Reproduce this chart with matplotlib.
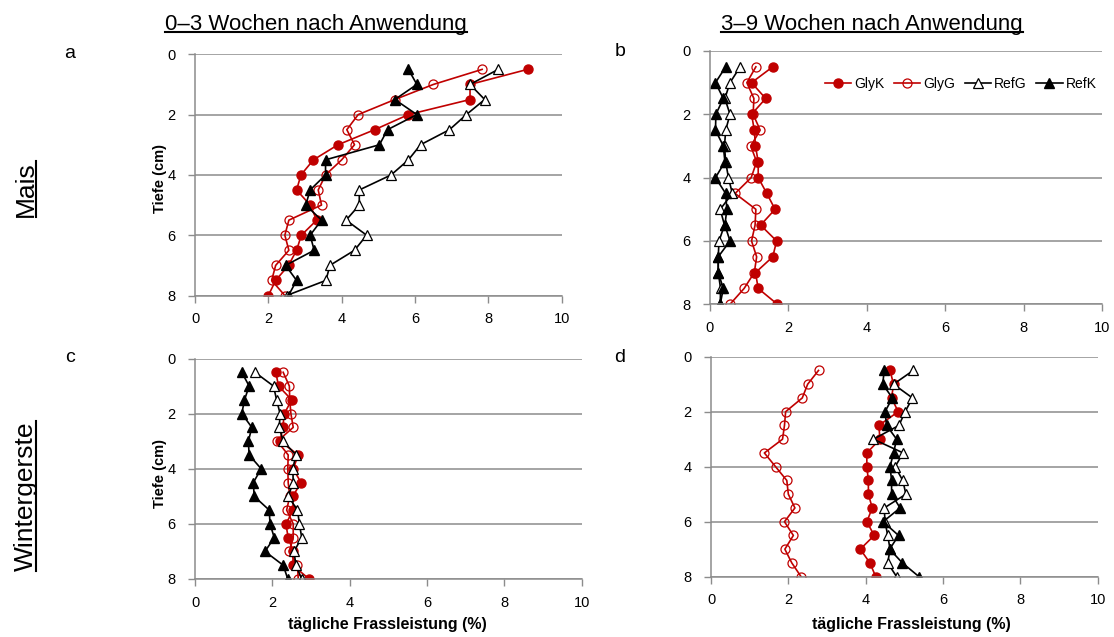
import numpy as np
import matplotlib
matplotlib.use('Agg')
import matplotlib.pyplot as plt
from matplotlib.lines import Line2D

plt.rcParams['font.family'] = ['Liberation Sans', 'DejaVu Sans']

# depth of each sample (cm)
depth = [0.5, 1.0, 1.5, 2.0, 2.5, 3.0, 3.5, 4.0, 4.5, 5.0, 5.5, 6.0, 6.5, 7.0, 7.5, 8.0]

# a: Mais, 0-3 Wochen
a_glyk = [9.07, 7.5, 7.5, 5.82, 4.9, 3.9, 3.23, 2.89, 2.77, 3.14, 3.32, 2.9, 2.77, 2.55, 2.2, 2.0]
a_glyg = [7.83, 6.5, 5.45, 4.45, 4.14, 4.35, 4.0, 3.56, 3.36, 3.45, 2.56, 2.45, 2.56, 2.2, 2.09, 2.45]
a_refg = [8.27, 7.5, 7.9, 7.4, 6.94, 6.15, 5.82, 5.35, 4.48, 4.48, 4.12, 4.68, 4.35, 3.68, 3.57, 2.5]
a_refk = [5.82, 6.05, 5.45, 6.05, 5.25, 5.03, 3.56, 3.56, 3.14, 3.02, 3.45, 3.14, 3.25, 2.47, 2.77, 2.55]

# b: Mais, 3-9 Wochen
b_glyk = [1.6, 1.06, 1.42, 1.06, 1.13, 1.16, 1.23, 1.23, 1.45, 1.66, 1.29, 1.7, 1.6, 1.16, 1.23, 1.72]
b_glyg = [1.17, 0.94, 1.12, 1.1, 1.28, 1.04, 1.19, 1.05, 0.64, 1.17, 1.15, 1.06, 1.19, 1.13, 0.87, 0.51]
b_refg = [0.77, 0.51, 0.38, 0.51, 0.4, 0.37, 0.4, 0.47, 0.57, 0.26, 0.37, 0.23, 0.21, 0.21, 0.27, 0.26]
b_refk = [0.4, 0.14, 0.34, 0.15, 0.14, 0.34, 0.38, 0.14, 0.4, 0.43, 0.38, 0.51, 0.21, 0.21, 0.34, 0.26]

# c: Wintergerste, 0-3 Wochen
c_glyk = [2.09, 2.16, 2.5, 2.31, 2.27, 2.2, 2.67, 2.54, 2.74, 2.53, 2.54, 2.35, 2.41, 2.54, 2.53, 2.95]
c_glyg = [2.28, 2.44, 2.45, 2.48, 2.54, 2.13, 2.41, 2.4, 2.41, 2.45, 2.37, 2.54, 2.54, 2.44, 2.65, 2.67]
c_refg = [1.55, 2.03, 2.11, 2.2, 2.18, 2.28, 2.61, 2.53, 2.54, 2.41, 2.65, 2.7, 2.76, 2.56, 2.61, 2.76]
c_refk = [1.21, 1.4, 1.28, 1.21, 1.47, 1.38, 1.4, 1.71, 1.51, 1.53, 1.92, 1.94, 2.05, 1.81, 2.28, 2.4]

# d: Wintergerste, 3-9 Wochen
d_glyk = [4.63, 4.72, 4.67, 4.84, 4.34, 4.37, 4.03, 4.03, 4.07, 4.07, 4.17, 4.03, 4.22, 3.86, 4.11, 4.26]
d_glyg = [2.78, 2.5, 2.36, 1.93, 1.9, 1.85, 1.38, 1.67, 1.96, 2.0, 2.17, 1.9, 2.13, 1.91, 2.09, 2.33]
d_refg = [5.23, 4.72, 5.21, 5.02, 4.86, 4.2, 4.97, 4.76, 4.96, 5.04, 4.48, 4.5, 4.57, 4.63, 4.57, 4.8]
d_refk = [4.48, 4.44, 4.69, 4.5, 4.54, 4.8, 4.72, 4.63, 4.67, 4.67, 4.89, 4.45, 4.85, 4.62, 4.95, 5.38]

RED = '#c00000'
GRID = '#8c8c8c'
W, H = 1114, 637

fig = plt.figure(figsize=(W / 100, H / 100), dpi=100)


def ax_at(l, t, r, b):
    return fig.add_axes([l / W, 1 - b / H, (r - l) / W, (b - t) / H])


def draw_panel(ax, glyk, glyg, refg, refk):
    ax.plot(glyk, depth, '-o', color=RED, mfc=RED, mec=RED, ms=6.5, lw=1.2, label='GlyK')
    ax.plot(glyg, depth, '-o', color=RED, mfc='none', mec=RED, ms=6.5, mew=0.9, lw=1.2, label='GlyG')
    ax.plot(refg, depth, '-^', color='black', mfc='white', mec='black', ms=6.5, mew=0.9, lw=1.2, label='RefG')
    ax.plot(refk, depth, '-^', color='black', mfc='black', mec='black', ms=7, lw=1.2, label='RefK')
    ax.set_xlim(0, 10)
    ax.set_ylim(8, 0)
    ax.set_xticks(np.arange(0, 11, 2))
    ax.set_yticks(np.arange(0, 9, 2))
    ax.yaxis.grid(True, color=GRID, lw=1.1, zorder=0)
    ax.set_axisbelow(True)
    for s in ['top', 'right']:
        ax.spines[s].set_visible(False)
    for s in ['left', 'bottom']:
        ax.spines[s].set_color(GRID)
        ax.spines[s].set_linewidth(1.1)
    ax.tick_params(direction='out', length=5, width=1, color=GRID, labelsize=10.5,
                   labelcolor='black')
    ax.tick_params(axis='x', pad=7)
    ax.tick_params(axis='y', pad=9)


ax_a = ax_at(195, 54.3, 561.7, 295.5)
ax_b = ax_at(710, 51, 1102, 304.3)
ax_c = ax_at(195, 358.5, 581.7, 579)
ax_d = ax_at(711, 356.7, 1097.7, 576.7)

draw_panel(ax_a, a_glyk, a_glyg, a_refg, a_refk)
draw_panel(ax_b, b_glyk, b_glyg, b_refg, b_refk)
draw_panel(ax_c, c_glyk, c_glyg, c_refg, c_refk)
draw_panel(ax_d, d_glyk, d_glyg, d_refg, d_refk)

ax_b.legend(loc='center right', bbox_to_anchor=(1.0, 0.87), ncol=4, frameon=False,
            fontsize=10, handlelength=1.9, handletextpad=0.2, columnspacing=0.7,
            borderaxespad=0)

# labels
for y in [179, 474]:
    fig.text(160 / W, 1 - y / H, 'Tiefe (cm)', rotation=90, ha='center', va='center',
             fontsize=10.5, fontweight='bold')
for x in [387, 911]:
    fig.text(x / W, 1 - 625 / H, 'tägliche Frassleistung (%)', ha='center', va='center',
             fontsize=11.5, fontweight='bold')

for letter, x, y in [('a', 70, 54), ('b', 620, 52), ('c', 70, 358), ('d', 620, 358)]:
    fig.text(x / W, 1 - y / H, letter, ha='center', va='center', fontsize=14)

titles = []
for txt, x in [('0–3 Wochen nach Anwendung', 316), ('3–9 Wochen nach Anwendung', 872)]:
    titles.append(fig.text(x / W, 1 - 30 / H, txt, ha='center', va='baseline', fontsize=16))

rows = []
for txt, y in [('Mais', 189), ('Wintergerste', 496)]:
    rows.append(fig.text(33 / W, 1 - y / H, txt, rotation=90, rotation_mode='anchor',
                         ha='center', va='baseline', fontsize=19))

# underline titles and row names
fig.canvas.draw()
r = fig.canvas.get_renderer()
for t in titles:
    bb = t.get_window_extent(r)
    yb = (H - 30) + 1 - 2.5
    fig.add_artist(Line2D([bb.x0 / W, bb.x1 / W], [yb / H, yb / H], color='black', lw=1.5,
                          transform=fig.transFigure))
for t in rows:
    bb = t.get_window_extent(r)
    xb = 33 + 2.5
    fig.add_artist(Line2D([xb / W, xb / W], [bb.y0 / H, bb.y1 / H], color='black', lw=1.5,
                          transform=fig.transFigure))

fig.savefig('out.png', dpi=100)
